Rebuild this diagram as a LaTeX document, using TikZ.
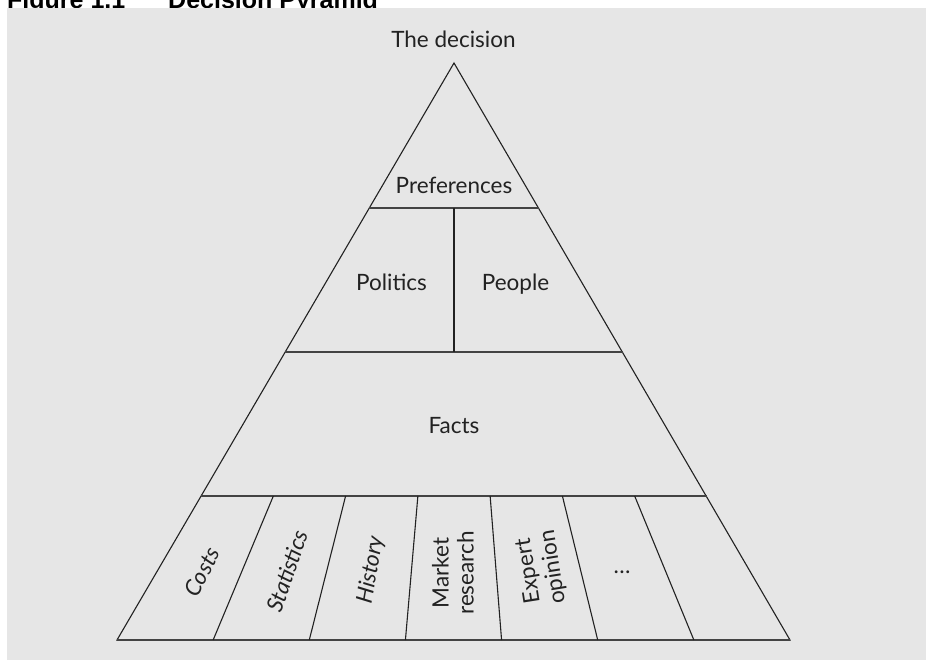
\documentclass[tikz,border=0pt]{standalone}
\usepackage{fontspec}
\setmainfont{Lato}
\newfontfamily\titlefont{Liberation Sans}
\definecolor{bg}{HTML}{E6E6E6}
\definecolor{ink}{HTML}{222222}
\begin{document}
\begin{tikzpicture}[x=1pt,y=-1pt,
  lbl/.style={font=\fontsize{22.5}{25}\selectfont, text=ink, inner sep=0pt},
  ttl/.style={font=\titlefont\bfseries\fontsize{25}{28}\selectfont, text=black, inner sep=0pt, anchor=base west},
  edge/.style={draw=ink, line width=1.1pt, line join=miter},
  rule/.style={draw=ink!85, line width=1.4pt}]
\useasboundingbox (0,0) rectangle (927,661);
\node[ttl] (t1) at (7,9) {Figure 1.1};
\node[ttl] (t2) at (168,9) {Decision Pyramid};
\fill[bg] (7,8) rectangle (926,660);
% triangle
\coordinate (A) at (454,63);
\coordinate (BL) at (117,640);
\coordinate (BR) at (790,640);
\coordinate (P1) at (369.3,208); \coordinate (P2) at (538.7,208);
\coordinate (Q1) at (285.2,352); \coordinate (Q2) at (622.8,352);
\coordinate (R1) at (201.1,496); \coordinate (R2) at (706.9,496);
\coordinate (M1) at (454,208); \coordinate (M2) at (454,352);
\draw[edge] (A) -- (BL) -- (BR) -- cycle;
\draw[rule] (P1) -- (P2);
\draw[rule] (Q1) -- (Q2);
\draw[rule] (R1) -- (R2);
\draw[rule] (BL) -- (BR);
\draw[edge] (M1) -- (M2);
\foreach \i in {1,...,6} {
  \coordinate (D\i) at ({201.1+72.26*\i},496);
  \coordinate (E\i) at ({117+96.143*\i},640);
  \draw[edge] (D\i) -- (E\i);
}
% labels
\node[lbl, anchor=base] (dec) at (453.5,48) {The decision};
\node[lbl, anchor=base] (pref) at (454,193) {Preferences};
\node[lbl, anchor=base] (pol) at (391.5,290) {Politics};
\node[lbl, anchor=base] (peo) at (515.5,290) {People};
\node[lbl, anchor=base] (fac) at (454,433) {Facts};
\node[lbl, rotate=63, font=\fontsize{22.5}{25}\selectfont\itshape] (cost) at (202,572) {Costs};
\node[lbl, rotate=71, font=\fontsize{22.5}{25}\selectfont\itshape] (stat) at (287,571) {Statistics};
\node[lbl, rotate=80, font=\fontsize{22.5}{25}\selectfont\itshape] (hist) at (371,570) {History};
\node[lbl, rotate=90, align=center] (mkt) at (453,573) {Market\\research};
\node[lbl, rotate=99, align=center] (exp) at (541,569) {Expert\\opinion};
\node[lbl, anchor=base] (dots) at (622,573) {\dots};
\end{tikzpicture}
\end{document}
